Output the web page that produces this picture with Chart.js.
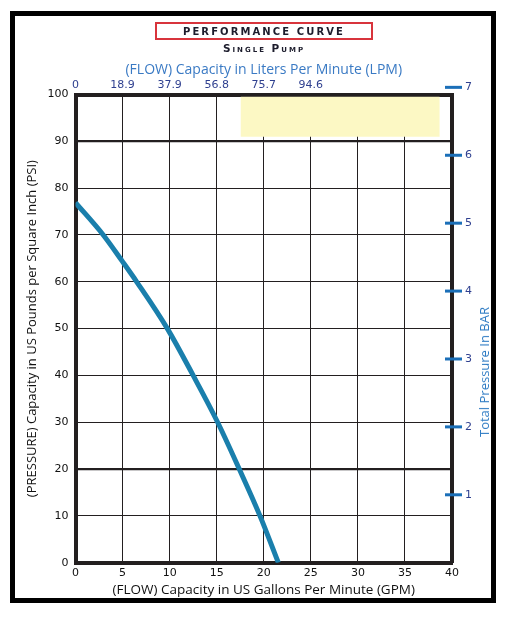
<!DOCTYPE html>
<html>
<head>
<meta charset="utf-8">
<script src="https://cdn.jsdelivr.net/npm/chart.js@4/dist/chart.umd.min.js"></script>
<style>
  body { margin: 0; background: #fff; }
  #wrap { position: relative; width: 512px; height: 622px; overflow: hidden; }
  #frame { position: absolute; left: 10px; top: 11px; width: 486px; height: 592px;
           border: 5px solid #000; box-sizing: border-box; }
  #chart { position: absolute; left: 0; top: 0; }
  #title { position: absolute; left: 155px; top: 22px; width: 218px; height: 18px;
           border: 2px solid #d8343c; box-sizing: border-box; text-align: center;
           font: bold 10px "DejaVu Sans", sans-serif; letter-spacing: 2.1px;
           line-height: 15px; color: #1c1c2c; }
  #sub { position: absolute; left: 150px; top: 42px; width: 228px; text-align: center;
         font: bold 10.5px "DejaVu Sans", sans-serif; font-variant: small-caps;
         letter-spacing: 2px; color: #1c1c2c; }
  #barTitle { position: absolute; left: 484px; top: 372px; white-space: nowrap;
              transform: translate(-50%, -50%) rotate(-90deg);
              font: 13px "Open Sans", sans-serif; color: #2f7cc4; }
</style>
</head>
<body>
<div id="wrap">
  <div id="frame"></div>
  <canvas id="chart" width="512" height="622"></canvas>
  <div id="title">PERFORMANCE CURVE</div>
  <div id="sub">Single Pump</div>
  <div id="barTitle">Total Pressure In BAR</div>
</div>
<script>
// pump curve
const gpm = [0, 2.95, 5, 6.5, 9.76, 12.5, 15.1, 17.4, 19.6, 21.55];
const psi = [76.9, 70, 64.3, 60, 50, 40, 30, 20, 10, 0];

// top axis: litres per minute shown at gallon gridlines
const lpmAt = [0, 5, 10, 15, 20, 25];
const lpmLabels = ['0', '18.9', '37.9', '56.8', '75.7', '94.6'];

// right axis in bar
const barTicks = [1, 2, 3, 4, 5, 6, 7];
const psiPerBar = 14.5038;

// pale yellow box, top right
const shadeGpm = [17.53, 38.7];
const shadeTop = 99.5;
const shadeBottom = 91;

const ink = '#231f20';
const tickFont = { family: 'DejaVu Sans', size: 11 };

const barMarks = {
  id: 'barMarks',
  afterDraw(chart) {
    const s = chart.scales.y2;
    const ctx = chart.ctx;
    ctx.save();
    ctx.fillStyle = '#1b6fb8';
    s.ticks.forEach(t => {
      const y = s.getPixelForValue(t.value);
      ctx.fillRect(s.left - 7, y - 1.5, 17, 3);
    });
    ctx.restore();
  }
};

new Chart(document.getElementById('chart').getContext('2d'), {
  type: 'line',
  data: {
    datasets: [
      {
        data: gpm.map((x, i) => ({ x: x, y: psi[i] })),
        borderColor: '#1a7fac',
        borderWidth: 5,
        pointRadius: 0,
        cubicInterpolationMode: 'monotone',
        fill: false,
        xAxisID: 'x',
        yAxisID: 'y'
      },
      {
        data: shadeGpm.map(x => ({ x: x, y: shadeTop })),
        borderWidth: 0,
        pointRadius: 0,
        backgroundColor: '#fcf8c4',
        fill: { value: shadeBottom },
        xAxisID: 'x',
        yAxisID: 'y',
        order: 2
      }
    ]
  },
  options: {
    responsive: false,
    animation: false,
    layout: { padding: 0 },
    plugins: { legend: { display: false }, tooltip: { enabled: false } },
    scales: {
      x: {
        type: 'linear', position: 'bottom', min: 0, max: 40,
        afterFit: s => { s.height = 59.3; },
        ticks: { stepSize: 5, color: '#111', font: tickFont, padding: 4, maxRotation: 0 },
        grid: { color: ink, lineWidth: 1, drawTicks: false },
        border: { color: ink, width: 4 },
        title: {
          display: true, text: '(FLOW) Capacity in US Gallons Per Minute (GPM)',
          color: '#111', font: { family: 'Open Sans', size: 13.5 },
          padding: { top: 0, bottom: 24 }
        }
      },
      x2: {
        type: 'linear', position: 'top', min: 0, max: 40,
        afterFit: s => { s.height = 94.5; },
        afterBuildTicks: s => { s.ticks = lpmAt.map(v => ({ value: v })); },
        ticks: {
          color: '#2e3f8f', font: tickFont, padding: 3, autoSkip: false, maxRotation: 0,
          callback: (v, i) => lpmLabels[i]
        },
        grid: { display: false, drawTicks: false },
        border: { color: ink, width: 4 },
        title: {
          display: true, text: '(FLOW) Capacity in Liters Per Minute (LPM)',
          color: '#3a7ac4', font: { family: 'Open Sans', size: 14 },
          padding: { top: 62, bottom: 0 }
        }
      },
      y: {
        type: 'linear', position: 'left', min: 0, max: 100,
        afterFit: s => { s.width = 75.5; },
        ticks: { stepSize: 10, color: '#111', font: tickFont, padding: 7 },
        grid: {
          color: ink, drawTicks: false,
          lineWidth: c => (c.tick && (c.tick.value === 90 || c.tick.value === 20)) ? 2.2 : 1
        },
        border: { color: ink, width: 4 },
        title: {
          display: true, text: '(PRESSURE) Capacity in US Pounds per Square Inch (PSI)',
          color: '#111', font: { family: 'Open Sans', size: 13 },
          padding: { top: 24, bottom: 0 }
        }
      },
      y2: {
        type: 'linear', position: 'right', min: 0, max: 100 / psiPerBar,
        afterFit: s => { s.width = 60; },
        afterBuildTicks: s => { s.ticks = barTicks.map(v => ({ value: v })); },
        ticks: { color: '#2e3f8f', font: tickFont, padding: 13, autoSkip: false },
        grid: { display: false, drawTicks: false },
        border: { color: ink, width: 4 }
      }
    }
  },
  plugins: [barMarks]
});
</script>
</body>
</html>
